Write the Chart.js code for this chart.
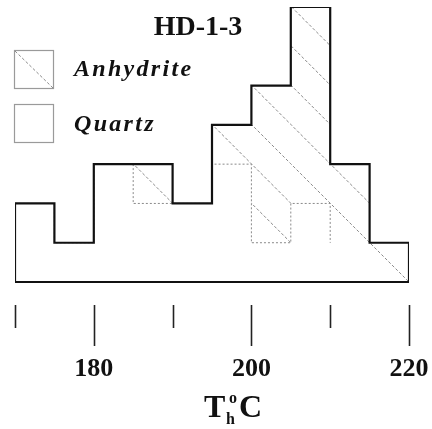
<!DOCTYPE html>
<html>
<head>
<meta charset="utf-8">
<script src="https://cdn.jsdelivr.net/npm/chart.js@4.4.1/dist/chart.umd.min.js"></script>
<style>
  html, body { margin: 0; padding: 0; background: #fff; }
</style>
</head>
<body>
<canvas id="chart" width="432" height="429"></canvas>
<script>
// homogenization temperature bins (°C), 5 degree wide
const binStarts = [170, 175, 180, 185, 190, 195, 200, 205, 210, 215];
const binWidth = 5;
const quartz = [2, 1, 3, 2, 2, 3, 1, 2, 1, 0];
const anhydrite = [0, 0, 0, 1, 0, 1, 4, 5, 2, 1];
const tickValues = [170, 180, 190, 200, 210, 220];
const tickLabels = ["", "180", "", "200", "", "220"];

const binLabels = binStarts.map((s) => `${s}-${s + binWidth}`);
const totals = quartz.map((q, i) => q + anhydrite[i]);
const lastEdge = binStarts[binStarts.length - 1] + binWidth;

// outline of the whole histogram (quartz + anhydrite)
const outline = [{ x: binStarts[0], y: 0 }];
binStarts.forEach((s, i) => outline.push({ x: s, y: totals[i] }));
outline.push({ x: lastEdge, y: totals[totals.length - 1] });
outline.push({ x: lastEdge, y: 0 });
outline.push({ x: binStarts[0], y: 0 });

// top of the quartz part (dotted boundary under the anhydrite)
const quartzTop = binStarts.map((s, i) => ({ x: s, y: quartz[i] }));
quartzTop.push({ x: lastEdge, y: quartz[quartz.length - 1] });

const HATCH_COLOR = "#8a8a8a";
const HATCH_DASH = [3, 2];

// diagonal hatching inside the anhydrite bars
const hatchPlugin = {
	id: "hatch",
	afterDatasetDraw(chart, args) {
		if (chart.data.datasets[args.index].label !== "Anhydrite") return;
		const ctx = chart.ctx;
		const area = chart.chartArea;
		const y0 = chart.scales.y.getPixelForValue(0);
		const step = area.width / binStarts.length;
		args.meta.data.forEach((bar) => {
			const { x, y, base, width } = bar.getProps(["x", "y", "base", "width"], true);
			const top = Math.min(y, base);
			const h = Math.abs(base - y);
			if (h < 1) return;
			ctx.save();
			ctx.beginPath();
			ctx.rect(x - width / 2, top, width, h);
			ctx.clip();
			ctx.strokeStyle = HATCH_COLOR;
			ctx.lineWidth = 1;
			ctx.setLineDash(HATCH_DASH);
			for (let k = -12; k <= 24; k++) {
				const x1 = area.left + k * step;
				ctx.beginPath();
				ctx.moveTo(x1 - 420, y0 - 420);
				ctx.lineTo(x1 + 40, y0 + 40);
				ctx.stroke();
			}
			ctx.restore();
		});
	},
};

const decorPlugin = {
	id: "decor",
	afterDraw(chart) {
		const ctx = chart.ctx;
		const x = chart.scales.x;
		const bottom = chart.chartArea.bottom;
		ctx.save();

		// tick marks below the plot
		ctx.strokeStyle = "#222";
		ctx.lineWidth = 1.6;
		tickValues.forEach((v, i) => {
			const px = Math.round(x.getPixelForValue(v)) + 0.5;
			const len = tickLabels[i] ? 41 : 23;
			ctx.beginPath();
			ctx.moveTo(px, bottom);
			ctx.lineTo(px, bottom + len);
			ctx.stroke();
		});

		// title
		ctx.fillStyle = "#111";
		ctx.textAlign = "center";
		ctx.textBaseline = "alphabetic";
		ctx.font = 'bold 28px "Liberation Serif"';
		ctx.fillText("HD-1-3", 198, 35);

		// legend
		ctx.strokeStyle = "#9a9a9a";
		ctx.lineWidth = 1.2;
		ctx.strokeRect(14.5, 50.5, 39, 38);
		ctx.strokeRect(14.5, 104.5, 39, 38);
		ctx.strokeStyle = HATCH_COLOR;
		ctx.lineWidth = 1;
		ctx.setLineDash(HATCH_DASH);
		ctx.beginPath();
		ctx.moveTo(15, 51);
		ctx.lineTo(53, 88);
		ctx.stroke();
		ctx.setLineDash([]);

		ctx.textAlign = "left";
		ctx.font = 'italic bold 24px "Liberation Serif"';
		ctx.letterSpacing = "2.3px";
		ctx.fillText("Anhydrite", 74, 76);
		ctx.fillText("Quartz", 74, 131);
		ctx.letterSpacing = "0px";

		// axis title T_h °C
		ctx.font = 'bold 32px "Liberation Serif"';
		ctx.fillText("T", 204, 417);
		ctx.fillText("C", 239, 417);
		ctx.font = 'bold 16px "Liberation Serif"';
		ctx.fillText("h", 226, 424);
		ctx.fillText("o", 229, 403);

		ctx.restore();
	},
};

new Chart(document.getElementById("chart"), {
	type: "bar",
	data: {
		labels: binLabels,
		datasets: [
			{
				type: "line",
				label: "outline",
				data: outline,
				xAxisID: "x",
				yAxisID: "y",
				stack: "outline",
				stepped: true,
				borderColor: "#111",
				borderWidth: 2.2,
				pointRadius: 0,
				fill: false,
				order: 0,
			},
			{
				type: "line",
				label: "quartz top",
				data: quartzTop,
				xAxisID: "x",
				yAxisID: "y",
				stack: "qtop",
				stepped: true,
				borderColor: "#8a8a8a",
				borderWidth: 1,
				borderDash: [2, 2],
				pointRadius: 0,
				fill: false,
				order: 1,
				segment: {
					// nothing to separate past 210 °C
					borderColor: (c) => (c.p0.parsed.x >= 210 ? "rgba(0,0,0,0)" : undefined),
				},
			},
			{
				label: "Quartz",
				data: quartz,
				xAxisID: "xb",
				yAxisID: "y",
				backgroundColor: "#fff",
				borderWidth: 0,
				grouped: false,
				barPercentage: 1,
				categoryPercentage: 1,
				order: 3,
			},
			{
				label: "Anhydrite",
				data: anhydrite.map((a, i) => [quartz[i], quartz[i] + a]),
				xAxisID: "xb",
				yAxisID: "y",
				backgroundColor: "#fff",
				borderWidth: 0,
				grouped: false,
				barPercentage: 1,
				categoryPercentage: 1,
				order: 2,
			},
		],
	},
	options: {
		responsive: false,
		animation: false,
		layout: {
			padding: { left: 15, right: 23, top: 7, bottom: 46 },
		},
		plugins: {
			legend: { display: false },
			title: { display: false },
			tooltip: { enabled: false },
		},
		scales: {
			xb: {
				type: "category",
				labels: binLabels,
				display: false,
				offset: true,
				afterFit: (scale) => {
					scale.height = 0;
				},
			},
			x: {
				type: "linear",
				position: "bottom",
				min: 170,
				max: 220,
				offset: false,
				grid: { display: false, drawTicks: false, offset: false },
				border: { display: false },
				afterBuildTicks: (scale) => {
					scale.ticks = tickValues.map((v) => ({ value: v }));
				},
				afterFit: (scale) => {
					scale.height = 78;
					scale.paddingLeft = 0;
					scale.paddingRight = 0;
				},
				ticks: {
					autoSkip: false,
					maxRotation: 0,
					minRotation: 0,
					padding: 49,
					color: "#111",
					font: { family: "Liberation Serif", size: 26, weight: "bold" },
					callback: (v) => tickLabels[tickValues.indexOf(v)] || "",
				},
			},
			y: {
				display: false,
				min: -0.585,
				max: 7,
				afterFit: (scale) => {
					scale.width = 0;
				},
			},
		},
	},
	plugins: [hatchPlugin, decorPlugin],
});
</script>
</body>
</html>
